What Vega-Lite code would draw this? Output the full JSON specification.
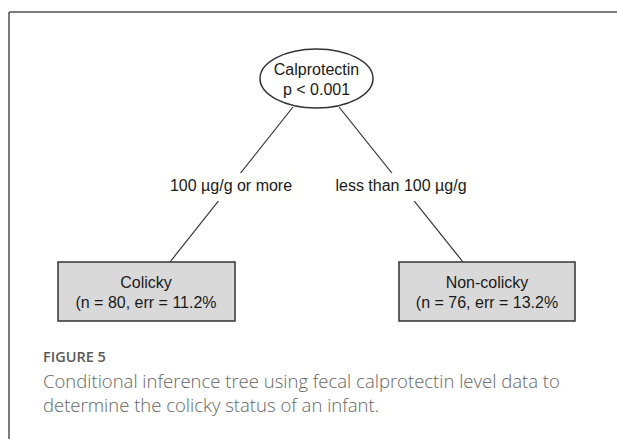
{
  "$schema": "https://vega.github.io/schema/vega-lite/v6.json",
  "width": 617,
  "height": 439,
  "padding": 0,
  "autosize": {"type": "none"},
  "background": "white",
  "config": {"view": {"stroke": null}},
  "datasets": {
    "frame": [
      {"x": 9, "y": 12, "x2": 9, "y2": 439},
      {"x": 9, "y": 12, "x2": 617, "y2": 12}
    ],
    "edges": [
      {"x": 293, "y": 107, "x2": 170, "y2": 262},
      {"x": 339, "y": 107, "x2": 463, "y2": 262}
    ],
    "edgeLabels": [
      {"label": "100 µg/g or more", "cx": 231, "cy": 186, "x": 167, "x2": 298, "y": 173, "y2": 201},
      {"label": "less than 100 µg/g", "cx": 401, "cy": 186, "x": 333, "x2": 472, "y": 173, "y2": 201}
    ],
    "inner": [
      {"cx": 316.5, "cy": 78.5, "ty": 70, "label": "Calprotectin\np < 0.001"}
    ],
    "terminal": [
      {"x": 58, "x2": 235, "y": 262, "y2": 321, "cx": 146, "ty": 283, "label": "Colicky\n(n = 80, err = 11.2%"},
      {"x": 399, "x2": 575, "y": 262, "y2": 321, "cx": 487, "ty": 283, "label": "Non-colicky\n(n = 76, err = 13.2%"}
    ],
    "caption": [
      {"x": 43, "y": 358, "label": "FIGURE 5", "kind": "head"},
      {"x": 43, "y": 382, "label": "Conditional inference tree using fecal calprotectin level data to", "kind": "body"},
      {"x": 43, "y": 406, "label": "determine the colicky status of an infant.", "kind": "body"}
    ]
  },
  "layer": [
    {
      "data": {"name": "frame"},
      "mark": {"type": "rule", "color": "#505050", "strokeWidth": 1.5},
      "encoding": {
        "x": {"field": "x", "type": "quantitative", "scale": {"domain": [0, 617], "nice": false, "zero": false}, "axis": null},
        "y": {"field": "y", "type": "quantitative", "scale": {"domain": [0, 439], "nice": false, "zero": false, "reverse": true}, "axis": null},
        "x2": {"field": "x2"},
        "y2": {"field": "y2"}
      }
    },
    {
      "data": {"name": "edges"},
      "mark": {"type": "rule", "color": "#333333", "strokeWidth": 1.2},
      "encoding": {
        "x": {"field": "x", "type": "quantitative", "scale": {"domain": [0, 617], "nice": false, "zero": false}, "axis": null},
        "y": {"field": "y", "type": "quantitative", "scale": {"domain": [0, 439], "nice": false, "zero": false, "reverse": true}, "axis": null},
        "x2": {"field": "x2"},
        "y2": {"field": "y2"}
      }
    },
    {
      "data": {"name": "edgeLabels"},
      "mark": {"type": "rect", "fill": "#fefefb"},
      "encoding": {
        "x": {"field": "x", "type": "quantitative", "scale": {"domain": [0, 617], "nice": false, "zero": false}, "axis": null},
        "y": {"field": "y", "type": "quantitative", "scale": {"domain": [0, 439], "nice": false, "zero": false, "reverse": true}, "axis": null},
        "x2": {"field": "x2"},
        "y2": {"field": "y2"}
      }
    },
    {
      "data": {"name": "edgeLabels"},
      "mark": {"type": "text", "font": "Liberation Sans", "fontSize": 16, "color": "#1a1a1a", "align": "center", "baseline": "middle"},
      "encoding": {
        "x": {"field": "cx", "type": "quantitative", "scale": {"domain": [0, 617], "nice": false, "zero": false}, "axis": null},
        "y": {"field": "cy", "type": "quantitative", "scale": {"domain": [0, 439], "nice": false, "zero": false, "reverse": true}, "axis": null},
        "text": {"field": "label"}
      }
    },
    {
      "data": {"name": "inner"},
      "mark": {"type": "point", "shape": "M -1 0 A 1 0.522 0 1 0 1 0 A 1 0.522 0 1 0 -1 0 Z", "size": 12769, "filled": true, "fill": "white", "fillOpacity": 1, "stroke": "#333333", "strokeWidth": 1.5, "opacity": 1},
      "encoding": {
        "x": {"field": "cx", "type": "quantitative", "scale": {"domain": [0, 617], "nice": false, "zero": false}, "axis": null},
        "y": {"field": "cy", "type": "quantitative", "scale": {"domain": [0, 439], "nice": false, "zero": false, "reverse": true}, "axis": null}
      }
    },
    {
      "data": {"name": "inner"},
      "mark": {"type": "text", "font": "Liberation Sans", "fontSize": 16, "color": "#1a1a1a", "align": "center", "baseline": "middle", "lineBreak": "\n", "lineHeight": 20},
      "encoding": {
        "x": {"field": "cx", "type": "quantitative", "scale": {"domain": [0, 617], "nice": false, "zero": false}, "axis": null},
        "y": {"field": "ty", "type": "quantitative", "scale": {"domain": [0, 439], "nice": false, "zero": false, "reverse": true}, "axis": null},
        "text": {"field": "label"}
      }
    },
    {
      "data": {"name": "terminal"},
      "mark": {"type": "rect", "fill": "#d9d9d9", "stroke": "#333333", "strokeWidth": 1.5},
      "encoding": {
        "x": {"field": "x", "type": "quantitative", "scale": {"domain": [0, 617], "nice": false, "zero": false}, "axis": null},
        "y": {"field": "y", "type": "quantitative", "scale": {"domain": [0, 439], "nice": false, "zero": false, "reverse": true}, "axis": null},
        "x2": {"field": "x2"},
        "y2": {"field": "y2"}
      }
    },
    {
      "data": {"name": "terminal"},
      "mark": {"type": "text", "font": "Liberation Sans", "fontSize": 16, "color": "#1a1a1a", "align": "center", "baseline": "middle", "lineBreak": "\n", "lineHeight": 19.5},
      "encoding": {
        "x": {"field": "cx", "type": "quantitative", "scale": {"domain": [0, 617], "nice": false, "zero": false}, "axis": null},
        "y": {"field": "ty", "type": "quantitative", "scale": {"domain": [0, 439], "nice": false, "zero": false, "reverse": true}, "axis": null},
        "text": {"field": "label"}
      }
    },
    {
      "data": {"name": "caption"},
      "transform": [{"filter": "datum.kind === 'head'"}],
      "mark": {"type": "text", "font": "Open Sans", "fontSize": 14.5, "fontWeight": 600, "color": "#5a5a5a", "align": "left", "baseline": "middle"},
      "encoding": {
        "x": {"field": "x", "type": "quantitative", "scale": {"domain": [0, 617], "nice": false, "zero": false}, "axis": null},
        "y": {"field": "y", "type": "quantitative", "scale": {"domain": [0, 439], "nice": false, "zero": false, "reverse": true}, "axis": null},
        "text": {"field": "label"}
      }
    },
    {
      "data": {"name": "caption"},
      "transform": [{"filter": "datum.kind === 'body'"}],
      "mark": {"type": "text", "font": "Open Sans", "fontSize": 18.5, "fontWeight": 300, "color": "#666666", "align": "left", "baseline": "middle"},
      "encoding": {
        "x": {"field": "x", "type": "quantitative", "scale": {"domain": [0, 617], "nice": false, "zero": false}, "axis": null},
        "y": {"field": "y", "type": "quantitative", "scale": {"domain": [0, 439], "nice": false, "zero": false, "reverse": true}, "axis": null},
        "text": {"field": "label"}
      }
    }
  ]
}
